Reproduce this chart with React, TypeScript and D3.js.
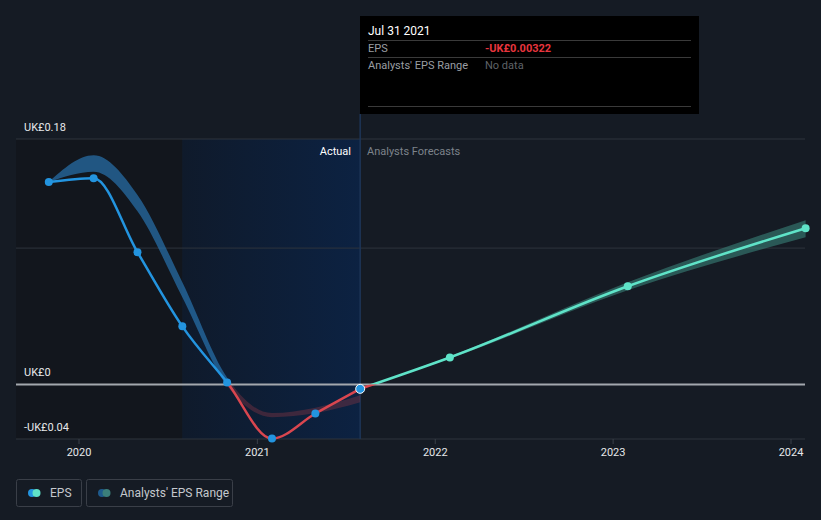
import React from "react";
import * as d3 from "d3";

const actualDates = ["2019-10-31", "2020-01-31", "2020-04-30", "2020-07-31", "2020-10-31", "2021-01-31", "2021-04-30", "2021-07-31"];
const actualEps = [0.1484, 0.1513, 0.097, 0.0426, 0.0015, -0.0397, -0.0213, -0.00322];
const pastRangeLow = [0.1484, 0.156, 0.127, 0.064, -0.001, -0.024, -0.021, -0.013];
const pastRangeHigh = [0.1484, 0.168, 0.139, 0.075, 0.005, -0.021, -0.017, -0.008];

const forecastDates = ["2021-07-31", "2022-01-31", "2023-01-31", "2024-01-31"];
const forecastEps = [-0.00322, 0.0198, 0.072, 0.1146];
const forecastLow = [-0.00322, 0.019, 0.069, 0.108];
const forecastHigh = [-0.00322, 0.0206, 0.075, 0.1205];

const yTickValues = [0.18, 0, -0.04];
const yTickLabels = ["UK£0.18", "UK£0", "-UK£0.04"];
const gridValues = [0.18, 0.1, -0.04];
const xTickYears = [2020, 2021, 2022, 2023, 2024];

const W = 821, H = 520;
const FONT = "Roboto, 'Open Sans', sans-serif";

export default function App() {
  const x = d3.scaleTime().domain([new Date(2020, 0, 1), new Date(2024, 0, 1)]).range([79, 791]);
  const y = d3.scaleLinear().domain([-0.04, 0.18]).range([439, 139]);
  const left = 16, right = 805;
  const zeroY = y(0);

  const act = actualDates.map((d, i) => ({ x: x(new Date(d)), y: y(actualEps[i]), lo: y(pastRangeLow[i]), hi: y(pastRangeHigh[i]) }));
  const fc = forecastDates.map((d, i) => ({ x: x(new Date(d)), y: y(forecastEps[i]), lo: y(forecastLow[i]), hi: y(forecastHigh[i]) }));

  const line = d3.line<any>().x(d => d.x).y(d => d.y).curve(d3.curveMonotoneX);
  const area = d3.area<any>().x(d => d.x).y0(d => d.lo).y1(d => d.hi).curve(d3.curveMonotoneX);

  const hlStart = x(new Date("2020-07-31"));
  const hlEnd = x(new Date("2021-07-31"));

  return (
    <svg width={W} height={H} style={{ position: "absolute", left: 0, top: 0 }} fontFamily={FONT}>
      <defs>
        <linearGradient id="hl" x1="0" x2="1" y1="0" y2="0">
          <stop offset="0" stopColor="#0f1a2b" />
          <stop offset="1" stopColor="#0c2242" />
        </linearGradient>
        <clipPath id="above"><rect x={0} y={0} width={W} height={zeroY} /></clipPath>
        <clipPath id="below"><rect x={0} y={zeroY} width={W} height={H - zeroY} /></clipPath>
      </defs>
      <rect x={0} y={0} width={W} height={H} fill="#151b24" />
      <rect x={left} y={y(0.18)} width={hlStart - left} height={y(-0.04) - y(0.18)} fill="#12161d" />
      <rect x={hlStart} y={y(0.18)} width={hlEnd - hlStart} height={y(-0.04) - y(0.18)} fill="url(#hl)" />

      {gridValues.map((v, i) => (
        <line key={i} x1={left} x2={right} y1={y(v)} y2={y(v)} stroke="#2e343d" strokeWidth={1} />
      ))}
      <line x1={hlEnd} x2={hlEnd} y1={114} y2={439} stroke="#1d3556" strokeWidth={1.5} />

      {xTickYears.map(yr => (
        <g key={yr}>
          <line x1={x(new Date(yr, 0, 1))} x2={x(new Date(yr, 0, 1))} y1={439} y2={444} stroke="#3a4049" />
          <text x={x(new Date(yr, 0, 1))} y={456} textAnchor="middle" fill="#e6e8ea" fontSize={11}>{yr}</text>
        </g>
      ))}

      {yTickValues.map((v, i) => (
        <text key={i} x={24} y={y(v) - 8} fill="#e6e8ea" fontSize={11}>{yTickLabels[i]}</text>
      ))}

      <text x={351} y={155} textAnchor="end" fill="#ffffff" fontSize={11}>Actual</text>
      <text x={367} y={155} fill="#7d838b" fontSize={11}>Analysts Forecasts</text>

      {/* past analyst range */}
      <path d={area(act) || ""} fill="#2a79b8" fillOpacity={0.65} clipPath="url(#above)" />
      <path d={area(act) || ""} fill="#7a3242" fillOpacity={0.45} clipPath="url(#below)" />
      {/* forecast range */}
      <path d={area(fc) || ""} fill="#3c8a80" fillOpacity={0.55} />

      <line x1={left} x2={right} y1={zeroY} y2={zeroY} stroke="#a3a8ae" strokeWidth={2} />

      {/* lines */}
      <path d={line(act) || ""} fill="none" stroke="#2394df" strokeWidth={2.5} clipPath="url(#above)" />
      <path d={line(act) || ""} fill="none" stroke="#d9464f" strokeWidth={2.5} clipPath="url(#below)" />
      <path d={line(fc) || ""} fill="none" stroke="#5fe3c8" strokeWidth={2.5} clipPath="url(#above)" />
      <path d={line(fc) || ""} fill="none" stroke="#d9464f" strokeWidth={2.5} clipPath="url(#below)" />

      {act.map((p, i) => (
        <circle key={i} cx={p.x} cy={p.y} r={i === act.length - 1 ? 4.5 : 4} fill="#2394df"
          stroke={i === act.length - 1 ? "#ffffff" : "none"} strokeWidth={1} />
      ))}
      {fc.slice(1).map((p, i) => (
        <circle key={i} cx={p.x} cy={p.y} r={4} fill="#5fe3c8" />
      ))}

      {/* tooltip */}
      <rect x={360} y={16} width={339} height={98} fill="#000000" />
      <text x={368} y={35} fill="#ffffff" fontSize={12}>Jul 31 2021</text>
      <line x1={368} x2={691} y1={40.5} y2={40.5} stroke="#3a3a3a" />
      <text x={368} y={52} fill="#9a9ea3" fontSize={11}>EPS</text>
      <text x={485} y={52} fill="#e8353d" fontSize={11} fontWeight="bold">-UK£0.00322</text>
      <line x1={368} x2={691} y1={57.5} y2={57.5} stroke="#3a3a3a" />
      <text x={368} y={69} fill="#9a9ea3" fontSize={11}>Analysts' EPS Range</text>
      <text x={485} y={69} fill="#5f6368" fontSize={11}>No data</text>
      <line x1={368} x2={691} y1={106.5} y2={106.5} stroke="#3a3a3a" />

      {/* legend */}
      <rect x={16.5} y={479.5} width={65} height={27} rx={2} fill="none" stroke="#3a3f48" />
      <circle cx={32} cy={493} r={4} fill="#2394df" />
      <circle cx={36.5} cy={493} r={4} fill="#5fe3c8" />
      <text x={50} y={497} fill="#c4c8cd" fontSize={12}>EPS</text>
      <rect x={86.5} y={479.5} width={146} height={27} rx={2} fill="none" stroke="#3a3f48" />
      <circle cx={102} cy={493} r={4} fill="#1e5a8c" />
      <circle cx={106.5} cy={493} r={4} fill="#3b7f7a" />
      <text x={120} y={497} fill="#c4c8cd" fontSize={12}>Analysts' EPS Range</text>
    </svg>
  );
}
